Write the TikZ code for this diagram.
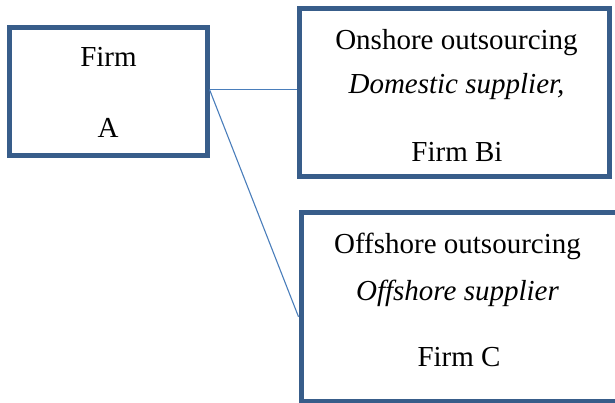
\documentclass[tikz,border=0pt]{standalone}
\usepackage{fontspec}
\setmainfont{Liberation Serif}
\definecolor{boxblue}{RGB}{56,93,138}
\definecolor{linkblue}{RGB}{74,126,187}
\begin{document}
\begin{tikzpicture}[x=1pt,y=-1pt,
  firmbox/.style={draw=boxblue, line width=5pt, fill=white, inner sep=0pt},
  label/.style={inner sep=0pt, anchor=base, font=\fontsize{29}{34}\selectfont},
  link/.style={draw=linkblue, line width=1.1pt}]
\useasboundingbox (0,0) rectangle (615,402);
\fill[white] (0,0) rectangle (615,402);
% boxes
\node[firmbox, minimum width=198pt, minimum height=128pt] (A) at (108,91) {};
\node[firmbox, minimum width=310pt, minimum height=168pt] (B) at (454,92.2) {};
\node[firmbox, minimum width=329pt, minimum height=188.5pt] (C) at (465.5,306.75) {};
% texts
\node[label] (tA1) at (108.5,66.7) {Firm};
\node[label] (tA2) at (108,137.7) {A};
\node[label] (tB1) at (456.5,49.3) {Onshore outsourcing};
\node[label] (tB2) at (456.5,93.3) {\itshape Domestic supplier,};
\node[label] (tB3) at (457,161.7) {Firm Bi};
\node[label] (tC1) at (457.5,253) {Offshore outsourcing};
\node[label] (tC2) at (457.5,300) {\itshape Offshore supplier};
\node[label] (tC3) at (459,366) {Firm C};
% connectors
\coordinate (cB) at ([yshift=1.5pt]A.east -| B.west);
\coordinate (cC) at ([yshift=-10pt]C.west);
\draw[link] ([yshift=1.5pt]A.east) -- (cB);
\draw[link] ([yshift=1.5pt]A.east) -- (cC);
\end{tikzpicture}
\end{document}
